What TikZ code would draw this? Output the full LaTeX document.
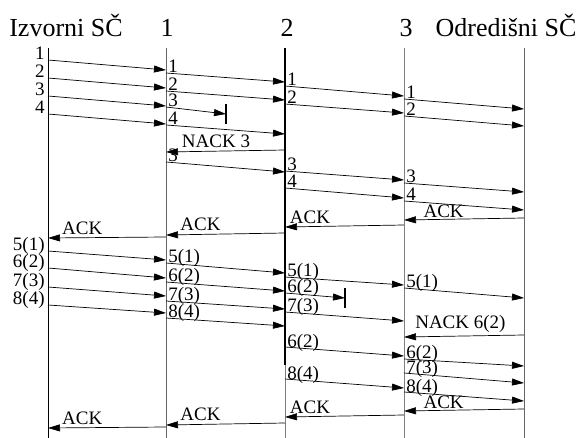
\documentclass[tikz,border=0pt]{standalone}
\usepackage{fontspec}
\setmainfont{Liberation Serif}
\usetikzlibrary{arrows.meta}

\newcommand\hdrfont{\fontsize{26}{26}\selectfont}
\newcommand\lblfont{\fontsize{19}{19}\selectfont}

\tikzset{
  pkt/.style={-{Triangle[length=12pt,width=7pt]}, line width=0.7pt},
  life/.style={line width=0.9pt},
  hdr/.style={anchor=base, inner sep=0pt, font=\hdrfont},
  lft/.style={anchor=base east, inner sep=1pt, xshift=-2pt, font=\lblfont},
  rgt/.style={anchor=base west, inner sep=1pt, xshift=1pt, font=\lblfont},
  ack/.style={anchor=south, inner sep=1pt, yshift=2pt, font=\lblfont},
  lost/.style={line width=2pt}
}

\begin{document}
\begin{tikzpicture}[x=1pt, y=-1pt]
	\useasboundingbox (0,0) rectangle (581,438);
	% stanice
	\coordinate (s) at (48,0);
	\coordinate (r1) at (166,0);
	\coordinate (r2) at (285,0);
	\coordinate (r3) at (404,0);
	\coordinate (d) at (524,0);
	\node[hdr] (hs) at (66,37) {Izvorni SČ};
	\node[hdr] (h1) at (167,37) {1};
	\node[hdr] (h2) at (287,37) {2};
	\node[hdr] (h3) at (406,37) {3};
	\node[hdr] (hd) at (506,37) {Odredišni SČ};
	\draw[life] (s|-0,48) -- (s|-0,438);
	\draw[life, gray!80!black] (r1|-0,48) -- (r1|-0,438);
	\draw[life, gray] (r2|-0,365) -- (r2|-0,438);
	\draw[line width=2pt] (r2|-0,48) -- (r2|-0,365);
	\draw[life, gray] (r3|-0,48) -- (r3|-0,438);
	\draw[life, gray!80!black] (d|-0,48) -- (d|-0,438);
	% prvi prozor
	\draw[pkt] (s|-0,60) node[lft] {1} -- (r1|-0,70);
	\draw[pkt] (s|-0,78) node[lft] {2} -- (r1|-0,88);
	\draw[pkt] (s|-0,96) node[lft] {3} -- (r1|-0,106);
	\draw[pkt] (s|-0,114) node[lft] {4} -- (r1|-0,124);
	\draw[pkt] (r1|-0,73) node[rgt] {1} -- (r2|-0,82);
	\draw[pkt] (r1|-0,91) node[rgt] {2} -- (r2|-0,100);
	\coordinate (x3) at (226,114);
	\draw[pkt] (r1|-0,107) node[rgt] {3} -- (x3);
	\draw[lost] ([yshift=10pt]x3) -- ([yshift=-10pt]x3);
	\draw[pkt] (r1|-0,125) node[rgt] {4} -- (r2|-0,134);
	\draw[pkt] (r2|-0,86) node[rgt] {1} -- (r3|-0,96);
	\draw[pkt] (r2|-0,104) node[rgt] {2} -- (r3|-0,113);
	\draw[pkt] (r3|-0,99) node[rgt] {1} -- (d|-0,109);
	\draw[pkt] (r3|-0,116) node[rgt] {2} -- (d|-0,126);
	\draw[pkt] (r2|-0,150) -- node[ack, pos=0.58] {NACK 3} (r1|-0,152);
	\draw[pkt] (r1|-0,162) node[rgt] {3} -- (r2|-0,172);
	\draw[pkt] (r2|-0,171) node[rgt] {3} -- (r3|-0,180);
	\draw[pkt] (r2|-0,188) node[rgt] {4} -- (r3|-0,198);
	\draw[pkt] (r3|-0,183) node[rgt] {3} -- (d|-0,192);
	\draw[pkt] (r3|-0,201) node[rgt] {4} -- (d|-0,210);
	\draw[pkt] (d|-0,218) -- node[ack, pos=0.67, yshift=-2pt] {ACK} (r3|-0,220);
	\draw[pkt] (r3|-0,225) -- node[ack, pos=0.79] {ACK} (r2|-0,227);
	\draw[pkt] (r2|-0,233) -- node[ack, pos=0.71] {ACK} (r1|-0,235);
	\draw[pkt] (r1|-0,237) -- node[ack, pos=0.71] {ACK} (s|-0,238);
	% drugi prozor
	\draw[pkt] (s|-0,251) node[lft] {5(1)} -- (r1|-0,260);
	\draw[pkt] (s|-0,268) node[lft] {6(2)} -- (r1|-0,278);
	\draw[pkt] (s|-0,287) node[lft] {7(3)} -- (r1|-0,296);
	\draw[pkt] (s|-0,305) node[lft] {8(4)} -- (r1|-0,313);
	\draw[pkt] (r1|-0,263) node[rgt] {5(1)} -- (r2|-0,273);
	\draw[pkt] (r1|-0,282) node[rgt] {6(2)} -- (r2|-0,291);
	\draw[pkt] (r1|-0,301) node[rgt] {7(3)} -- (r2|-0,309);
	\draw[pkt] (r1|-0,318) node[rgt] {8(4)} -- (r2|-0,326);
	\draw[pkt] (r2|-0,277) node[rgt] {5(1)} -- (r3|-0,285);
	\coordinate (x6) at (345,298);
	\draw[pkt] (r2|-0,293) node[rgt] {6(2)} -- (x6);
	\draw[lost] ([yshift=10pt]x6) -- ([yshift=-10pt]x6);
	\draw[pkt] (r2|-0,312) node[rgt] {7(3)} -- (r3|-0,321);
	\draw[pkt] (r3|-0,288) node[rgt] {5(1)} -- (d|-0,298);
	\draw[pkt] (d|-0,335) -- node[ack, pos=0.53] {NACK 6(2)} (r3|-0,337);
	\draw[pkt] (r2|-0,347) node[rgt] {6(2)} -- (r3|-0,356);
	\draw[pkt] (r2|-0,379) node[rgt] {8(4)} -- (r3|-0,388);
	\draw[pkt] (r3|-0,359) node[rgt] {6(2)} -- (d|-0,366);
	\draw[pkt] (r3|-0,373) node[rgt] {7(3)} -- (d|-0,383);
	\draw[pkt] (r3|-0,392) node[rgt] {8(4)} -- (d|-0,401);
	\draw[pkt] (d|-0,409) -- node[ack, pos=0.67, yshift=-2pt] {ACK} (r3|-0,411);
	\draw[pkt] (r3|-0,415) -- node[ack, pos=0.79] {ACK} (r2|-0,417);
	\draw[pkt] (r2|-0,423) -- node[ack, pos=0.71] {ACK} (r1|-0,425);
	\draw[pkt] (r1|-0,427) -- node[ack, pos=0.71] {ACK} (s|-0,428);
\end{tikzpicture}
\end{document}
